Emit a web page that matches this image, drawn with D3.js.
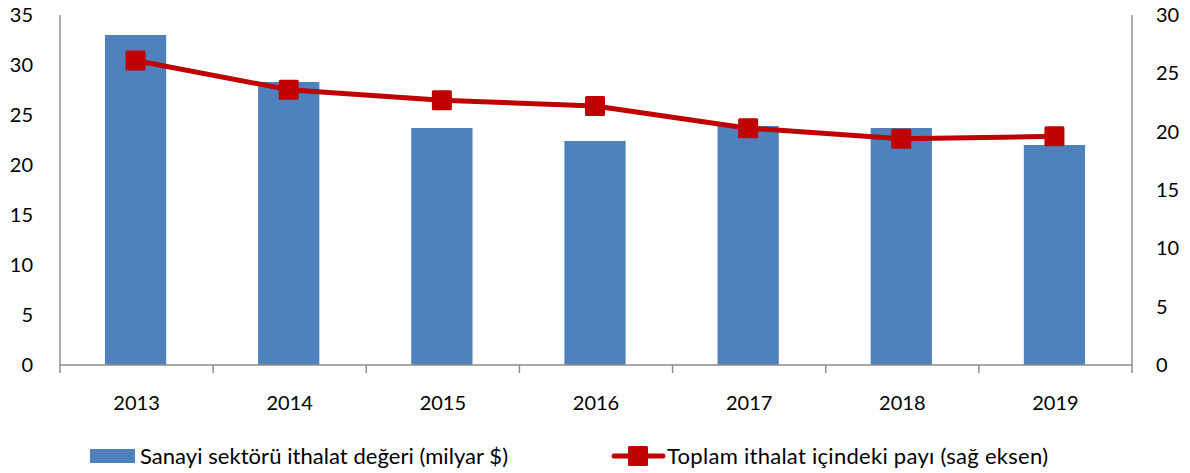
<!DOCTYPE html>
<html><head><meta charset="utf-8">
<script src="https://cdn.jsdelivr.net/npm/d3@7"></script>
<style>
body{margin:0;background:#fff;}
svg text{font-family:"Lato","Open Sans",sans-serif;fill:#000;}
</style></head>
<body><svg id="c" width="1190" height="473"></svg>
<script>
const years = ["2013","2014","2015","2016","2017","2018","2019"];
const importValue = [33.0, 28.3, 23.7, 22.4, 23.9, 23.7, 22.0];
const importShare = [26.1, 23.6, 22.7, 22.2, 20.3, 19.4, 19.6];
const leftTicks = [0,5,10,15,20,25,30,35];
const rightTicks = [0,5,10,15,20,25,30];
const seriesNames = ["Sanayi sektörü ithalat değeri (milyar $)", "Toplam ithalat içindeki payı (sağ eksen)"];

const svg = d3.select("#c");
const L = 60, R = 1132, T = 15, B = 365;
const x = d3.scaleBand().domain(years).range([L, R]).paddingInner(0).paddingOuter(0);
const yL = d3.scaleLinear().domain([0,35]).range([B, T]);
const yR = d3.scaleLinear().domain([0,30]).range([B, T]);
const axisColor = "#8c8c8c";
const barColor = "#4f81bd", lineColor = "#c00000";

// bars
const bw = x.bandwidth()*0.4;
svg.selectAll("rect.bar").data(years).join("rect")
  .attr("x", d => x(d) + x.bandwidth()/2 - bw/2 - 1)
  .attr("y", (d,i) => yL(importValue[i]))
  .attr("width", bw)
  .attr("height", (d,i) => B - yL(importValue[i]))
  .attr("fill", barColor);

// axes lines
svg.append("line").attr("x1",L).attr("x2",L).attr("y1",T).attr("y2",B+8).attr("stroke",axisColor).attr("stroke-width",1.5);
svg.append("line").attr("x1",R).attr("x2",R).attr("y1",T).attr("y2",B+8).attr("stroke",axisColor).attr("stroke-width",1.5);
svg.append("line").attr("x1",L).attr("x2",R).attr("y1",B).attr("y2",B).attr("stroke",axisColor).attr("stroke-width",1.5);
// category boundary ticks
svg.selectAll("line.ct").data(years.slice(1)).join("line")
  .attr("x1", d => x(d)).attr("x2", d => x(d)).attr("y1", B).attr("y2", B+8)
  .attr("stroke", axisColor).attr("stroke-width",1.5);

// left tick labels
svg.selectAll("text.yl").data(leftTicks).join("text")
  .attr("x", 33).attr("y", d => yL(d)).attr("dy","0.35em")
  .attr("text-anchor","end").attr("font-size",20).text(d => d);
// right tick labels
svg.selectAll("text.yr").data(rightTicks).join("text")
  .attr("x", 1156).attr("y", d => yR(d)).attr("dy","0.35em")
  .attr("text-anchor","start").attr("font-size",20).text(d => d);
// x labels
svg.selectAll("text.xl").data(years).join("text")
  .attr("x", d => x(d) + x.bandwidth()/2).attr("y", 410)
  .attr("text-anchor","middle").attr("font-size",20).text(d => d);

// line
const cx = d => x(d) + x.bandwidth()/2 - 1;
const line = d3.line().x((d,i) => cx(years[i])).y(d => yR(d));
svg.append("path").datum(importShare).attr("d", line)
  .attr("fill","none").attr("stroke",lineColor).attr("stroke-width",5).attr("stroke-linejoin","round");
svg.selectAll("rect.mk").data(importShare).join("rect")
  .attr("x", (d,i) => cx(years[i]) - 10).attr("y", d => yR(d) - 10)
  .attr("width",20).attr("height",20).attr("rx",1.5).attr("fill",lineColor);

// legend
const lg = svg.append("g");
lg.append("rect").attr("x",90).attr("y",449).attr("width",45).attr("height",14).attr("fill",barColor);
lg.append("text").attr("x",140).attr("y",464).attr("font-size",22).attr("textLength",368).text(seriesNames[0]);
lg.append("line").attr("x1",614).attr("x2",663).attr("y1",456).attr("y2",456).attr("stroke",lineColor).attr("stroke-width",5).attr("stroke-linecap","round");
lg.append("rect").attr("x",628).attr("y",446).attr("width",20).attr("height",20).attr("rx",1.5).attr("fill",lineColor);
lg.append("text").attr("x",667).attr("y",464).attr("font-size",22).attr("textLength",381).text(seriesNames[1]);
</script></body></html>
